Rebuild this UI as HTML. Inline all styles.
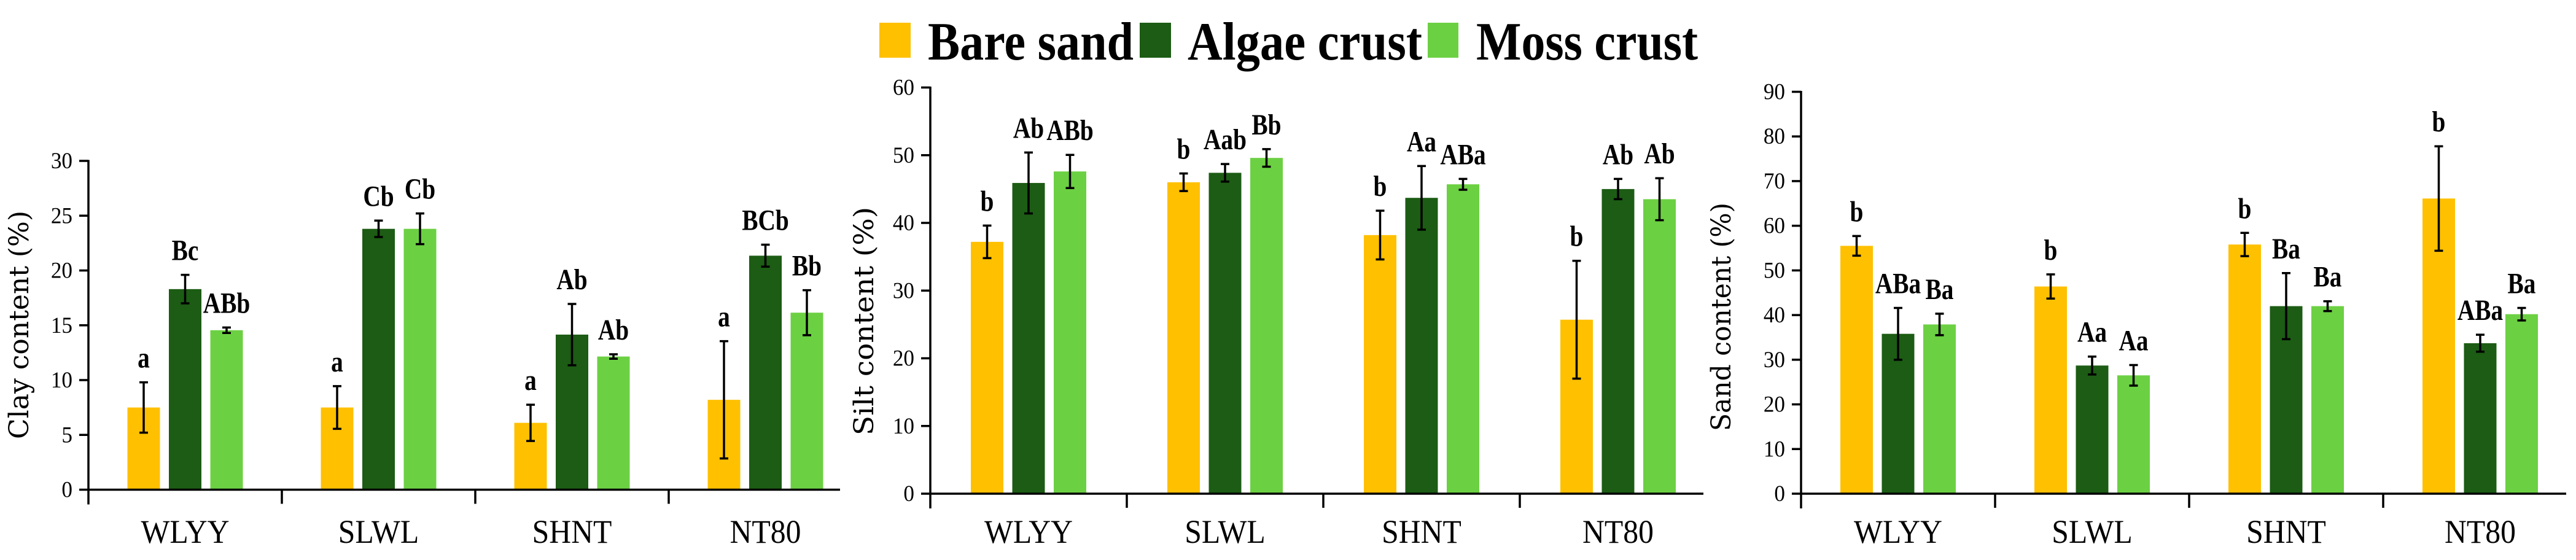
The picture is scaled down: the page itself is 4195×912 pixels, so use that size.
<!DOCTYPE html>
<html><head><meta charset="utf-8"><style>
html,body{margin:0;padding:0;background:#fff;width:4195px;height:912px;overflow:hidden}
svg{display:block}
</style></head><body>
<svg id="chart" width="4195" height="912" viewBox="0 0 4195 912" xmlns="http://www.w3.org/2000/svg">
<g id="legend" font-family="'Liberation Serif',serif" font-weight="bold" font-size="88">
 <g><rect x="1432" y="37" width="51" height="57" fill="#FFC000"/><text x="1511" y="97" textLength="335" lengthAdjust="spacingAndGlyphs">Bare sand</text></g>
 <g><rect x="1856" y="37" width="51" height="57" fill="#1C5C14"/><text x="1934" y="97" textLength="382" lengthAdjust="spacingAndGlyphs">Algae crust</text></g>
 <g><rect x="2325" y="37" width="50" height="57" fill="#6CD043"/><text x="2404" y="97" textLength="361" lengthAdjust="spacingAndGlyphs">Moss crust</text></g>
</g>
</svg>
<script>
const categories = ["WLYY","SLWL","SHNT","NT80"];
const seriesNames = ["Bare sand","Algae crust","Moss crust"];
// Clay
const clayBare = [7.5, 7.5, 6.1, 8.2];
const clayAlgae = [18.3, 23.8, 14.15, 21.35];
const clayMoss = [14.55, 23.8, 12.15, 16.15];
const clayBareErr = [2.3, 1.95, 1.65, 5.35];
const clayAlgaeErr = [1.3, 0.75, 2.8, 1.0];
const clayMossErr = [0.25, 1.4, 0.2, 2.05];
const clayLabelsBare = ["a","a","a","a"];
const clayLabelsAlgae = ["Bc","Cb","Ab","BCb"];
const clayLabelsMoss = ["ABb","Cb","Ab","Bb"];
const clayTicks = [0,5,10,15,20,25,30];
// Silt
const siltBare = [37.2, 46.0, 38.2, 25.7];
const siltAlgae = [45.9, 47.4, 43.7, 45.0];
const siltMoss = [47.6, 49.6, 45.7, 43.5];
const siltBareErr = [2.4, 1.3, 3.6, 8.7];
const siltAlgaeErr = [4.5, 1.3, 4.7, 1.5];
const siltMossErr = [2.45, 1.3, 0.8, 3.1];
const siltLabelsBare = ["b","b","b","b"];
const siltLabelsAlgae = ["Ab","Aab","Aa","Ab"];
const siltLabelsMoss = ["ABb","Bb","ABa","Ab"];
const siltTicks = [0,10,20,30,40,50,60];
// Sand
const sandBare = [55.5, 46.4, 55.8, 66.1];
const sandAlgae = [35.8, 28.7, 42.0, 33.7];
const sandMoss = [37.9, 26.5, 42.0, 40.2];
const sandBareErr = [2.2, 2.7, 2.6, 11.7];
const sandAlgaeErr = [5.8, 2.0, 7.4, 1.9];
const sandMossErr = [2.4, 2.3, 1.1, 1.4];
const sandLabelsBare = ["b","b","b","b"];
const sandLabelsAlgae = ["ABa","Aa","Ba","ABa"];
const sandLabelsMoss = ["Ba","Aa","Ba","Ba"];
const sandTicks = [0,10,20,30,40,50,60,70,80,90];

const NS = "http://www.w3.org/2000/svg";
const svg = document.getElementById("chart");
const colors = ["#FFC000","#1C5C14","#6CD043"];
function mk(tag, attrs, parent){const e=document.createElementNS(NS,tag);for(const k in attrs)e.setAttribute(k,attrs[k]);(parent||svg).appendChild(e);return e;}
function squeeze(t,f){try{const w=t.getComputedTextLength();if(w>0){t.setAttribute("textLength",w*f);t.setAttribute("lengthAdjust","spacingAndGlyphs");}}catch(e){}}

function panel(cfg){
  const g = mk("g",{});
  
  
  const yScale = v => cfg.y0 - (v/cfg.max)*(cfg.y0-cfg.yTop);
  const xCenter = i => cfg.x0 + cfg.cw*(i+0.5);
  const series = [cfg.s0,cfg.s1,cfg.s2], errs=[cfg.e0,cfg.e1,cfg.e2], labs=[cfg.l0,cfg.l1,cfg.l2];
  const bw=53, sp=67.5;
  categories.forEach((c,i)=>{
    for(let s=0;s<3;s++){
      const cx = xCenter(i)+(s-1)*sp;
      const v = series[s][i], top=yScale(v);
      const r = mk("rect",{x:cx-bw/2,y:top,width:bw,height:cfg.y0-top,fill:colors[s]},g);
      
      
      const hi=yScale(v+errs[s][i]), lo=yScale(v-errs[s][i]);
      const eb = mk("path",{d:`M${cx},${hi}V${lo}M${cx-7},${hi}H${cx+7}M${cx-7},${lo}H${cx+7}`,stroke:"#000","stroke-width":3.5,fill:"none"},g);
      
      
      const t = mk("text",{x:cx,y:hi-24,"text-anchor":"middle","font-family":"'Liberation Serif',serif","font-weight":"bold","font-size":48},g);
      t.textContent = labs[s][i];
      
      
      squeeze(t,0.82);
    }
    const cl = mk("text",{x:xCenter(i),y:884,"text-anchor":"middle","font-family":"'Liberation Serif',serif","font-size":54},g);
    cl.textContent = c;
    
    
    squeeze(cl,0.92);
  });
  const ya = mk("line",{x1:cfg.x0,y1:cfg.yTop-1.5,x2:cfg.x0,y2:cfg.y0+24,stroke:"#000","stroke-width":3.5},g);
  
  
  const xa = mk("line",{x1:cfg.x0,y1:cfg.y0,x2:cfg.xEnd,y2:cfg.y0,stroke:"#000","stroke-width":3.5},g);
  
  
  for(let i=1;i<4;i++){
    const sx = cfg.x0+cfg.cw*i;
    const sl = mk("line",{x1:sx,y1:cfg.y0,x2:sx,y2:cfg.y0+23,stroke:"#000","stroke-width":3.5},g);
    
    
  }
  cfg.ticks.forEach(t=>{
    const y=yScale(t);
    const tk = mk("line",{x1:cfg.x0-15,y1:y,x2:cfg.x0,y2:y,stroke:"#000","stroke-width":3.5},g);
    
    
    const tl = mk("text",{x:cfg.x0-26,y:y+12,"text-anchor":"end","font-family":"'Liberation Serif',serif","font-size":37},g);
    tl.textContent = t;
    
    
    squeeze(tl,0.95);
  });
  const tt = mk("text",{x:0,y:0,"text-anchor":"middle","font-family":"'DejaVu Serif',serif","font-size":44,textLength:372,lengthAdjust:"spacingAndGlyphs",transform:`translate(${cfg.titleX},${cfg.titleY}) rotate(-90)`},g);
  tt.textContent = cfg.title;
  
  
}

panel({name:"clay-chart",x0:144,xEnd:1368,cw:315,y0:797.5,yTop:262,max:30,ticks:clayTicks,title:"Clay content (%)",titleX:46,titleY:529,
  s0:clayBare,s1:clayAlgae,s2:clayMoss,e0:clayBareErr,e1:clayAlgaeErr,e2:clayMossErr,l0:clayLabelsBare,l1:clayLabelsAlgae,l2:clayLabelsMoss});
panel({name:"silt-chart",x0:1515,xEnd:2774,cw:320,y0:804,yTop:142.5,max:60,ticks:siltTicks,title:"Silt content (%)",titleX:1422,titleY:523,
  s0:siltBare,s1:siltAlgae,s2:siltMoss,e0:siltBareErr,e1:siltAlgaeErr,e2:siltMossErr,l0:siltLabelsBare,l1:siltLabelsAlgae,l2:siltLabelsMoss});
panel({name:"sand-chart",x0:2933,xEnd:4179,cw:316,y0:804,yTop:149.5,max:90,ticks:sandTicks,title:"Sand content (%)",titleX:2818,titleY:516,
  s0:sandBare,s1:sandAlgae,s2:sandMoss,e0:sandBareErr,e1:sandAlgaeErr,e2:sandMossErr,l0:sandLabelsBare,l1:sandLabelsAlgae,l2:sandLabelsMoss});
</script>
</body></html>
